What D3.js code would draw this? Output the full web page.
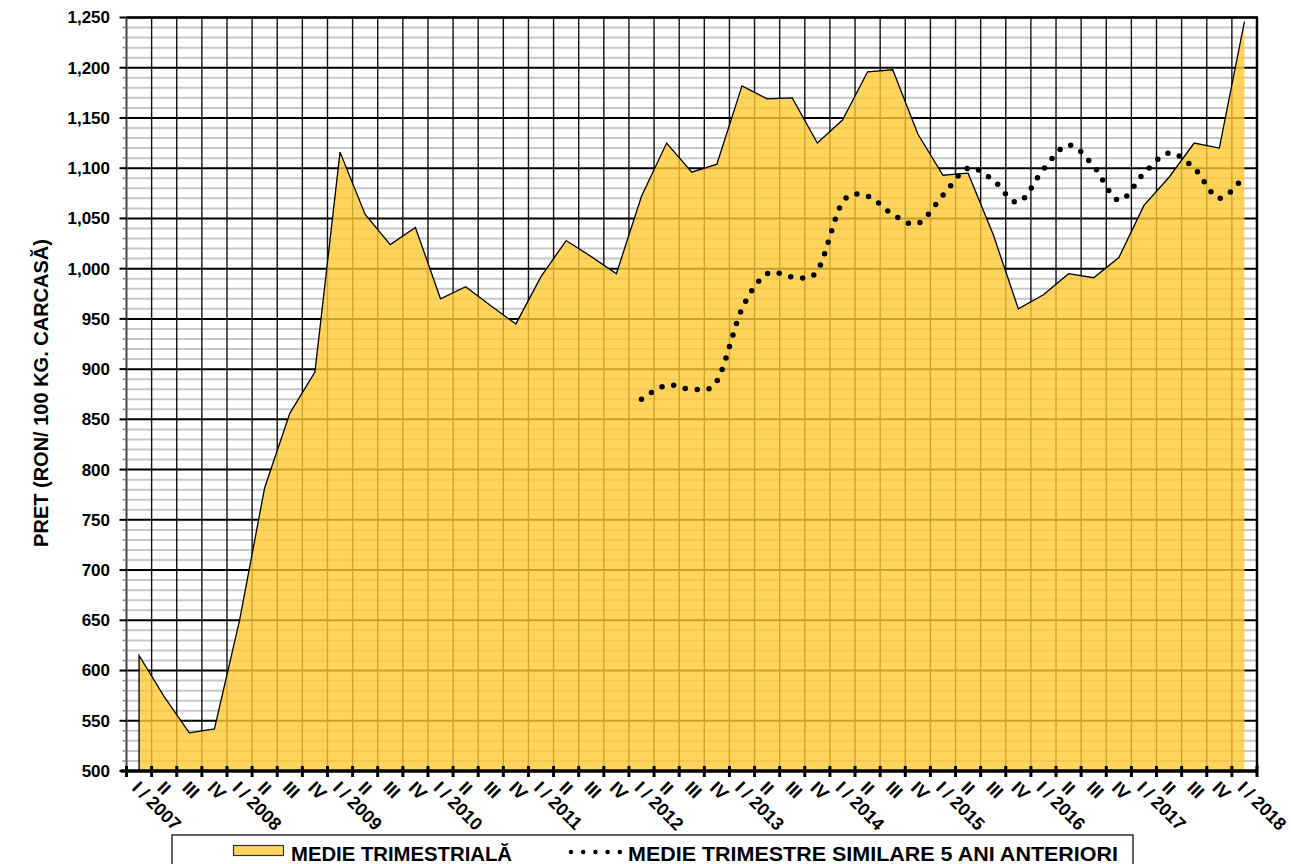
<!DOCTYPE html>
<html><head><meta charset="utf-8">
<script src="https://cdn.jsdelivr.net/npm/d3@7"></script>
<style>
body{margin:0;background:#fff}
text{font-family:"Liberation Sans",Arial,sans-serif;font-weight:bold;fill:#000}
</style>
</head><body>
<svg id="c" width="1291" height="864"></svg>
<script>
const categories = ["I / 2007","II","III","IV","I / 2008","II","III","IV","I / 2009","II","III","IV",
  "I / 2010","II","III","IV","I / 2011","II","III","IV","I / 2012","II","III","IV",
  "I / 2013","II","III","IV","I / 2014","II","III","IV","I / 2015","II","III","IV",
  "I / 2016","II","III","IV","I / 2017","II","III","IV","I / 2018"];
const medieTrimestriala = [615,574,538,542,650,782,856,897,1116,1054,1024,1041,
  970,982,963,945,992,1028,1012,995,1072,1125,1096,1104,
  1182,1169,1170,1125,1148,1196,1198,1134,1093,1095,1034,960,
  974,995,991,1011,1063,1091,1125,1120,1246];
const medieSimilare5Ani = [null,null,null,null,null,null,null,null,null,null,null,null,
  null,null,null,null,null,null,null,null,870,884,880,888,
  960,995,992,998,1066,1072,1054,1045,1073,1100,1088,1066,
  1099,1123,1102,1068,1095,1115,1100,1070,1093];
const yTicks = [500,550,600,650,700,750,800,850,900,950,1000,1050,1100,1150,1200,1250];
const yTickLabels = ["500","550","600","650","700","750","800","850","900","950","1,000","1,050","1,100","1,150","1,200","1,250"];
const yTitle = "PRET (RON/ 100 KG. CARCASĂ)";
const legendLabels = ["MEDIE TRIMESTRIALĂ","MEDIE TRIMESTRE SIMILARE 5 ANI ANTERIORI"];

const svg = d3.select("#c");
const L = 126.5, R = 1257, T = 17.5, B = 771;
const x = d3.scaleBand().domain(d3.range(categories.length)).range([L, R]);
const bw = x.bandwidth();
const cx = i => x(i) + bw / 2;
const y = d3.scaleLinear().domain([500, 1250]).range([B, T]);

const FILL = "#FFC933";

// minor horizontal grid
const minor = d3.range(510, 1250, 10).filter(v => v % 50 !== 0);
svg.append("g").selectAll("line").data(minor).join("line")
  .attr("x1", L).attr("x2", R).attr("y1", d => y(d)).attr("y2", d => y(d))
  .attr("stroke", "#c8c8c8").attr("stroke-width", 2);
// major horizontal grid
svg.append("g").selectAll("line").data(yTicks.filter(v => v > 500)).join("line")
  .attr("x1", L).attr("x2", R).attr("y1", d => y(d)).attr("y2", d => y(d))
  .attr("stroke", "#000").attr("stroke-width", 2);
// vertical grid
svg.append("g").selectAll("line").data(d3.range(1, categories.length)).join("line")
  .attr("x1", d => x(d)).attr("x2", d => x(d)).attr("y1", T).attr("y2", B)
  .attr("stroke", "#111").attr("stroke-width", 1.4);

// area
const area = d3.area().x((d, i) => cx(i)).y0(B).y1(d => y(d));
svg.append("path").datum(medieTrimestriala).attr("d", area)
  .attr("fill", FILL).attr("fill-opacity", 0.8);
const outline = d3.line().x(d => d[0]).y(d => d[1]);
const pts = [[cx(0), B]].concat(medieTrimestriala.map((v, i) => [cx(i), y(v)]));
svg.append("path").datum(pts).attr("d", outline)
  .attr("fill", "none").attr("stroke", "#000").attr("stroke-width", 1.3);

// borders
svg.append("line").attr("x1", L).attr("x2", R + 1).attr("y1", T).attr("y2", T)
  .attr("stroke", "#000").attr("stroke-width", 2.5);
svg.append("line").attr("x1", R).attr("x2", R).attr("y1", T).attr("y2", B)
  .attr("stroke", "#000").attr("stroke-width", 2.5);

// left axis
svg.append("line").attr("x1", L).attr("x2", L).attr("y1", T).attr("y2", B)
  .attr("stroke", "#444").attr("stroke-width", 2);
svg.append("g").selectAll("line").data(minor).join("line")
  .attr("x1", L - 4).attr("x2", L).attr("y1", d => y(d)).attr("y2", d => y(d))
  .attr("stroke", "#888").attr("stroke-width", 1.5);
svg.append("g").selectAll("line").data(yTicks).join("line")
  .attr("x1", L - 7).attr("x2", L).attr("y1", d => y(d)).attr("y2", d => y(d))
  .attr("stroke", "#000").attr("stroke-width", 2);
svg.append("g").selectAll("text").data(yTicks).join("text")
  .attr("x", 110).attr("y", d => y(d)).attr("dy", "0.35em")
  .attr("text-anchor", "end").attr("font-size", 17)
  .text((d, i) => yTickLabels[i]);

// y title
svg.append("text").attr("transform", "translate(48,393) rotate(-90)")
  .attr("text-anchor", "middle").attr("font-size", 20).text(yTitle);

// bottom axis
svg.append("line").attr("x1", L - 6).attr("x2", R + 1).attr("y1", B).attr("y2", B)
  .attr("stroke", "#000").attr("stroke-width", 3.5);
svg.append("g").selectAll("line").data(d3.range(0, categories.length + 1)).join("line")
  .attr("x1", d => L + d * bw).attr("x2", d => L + d * bw).attr("y1", B - 5).attr("y2", B + 6)
  .attr("stroke", "#000").attr("stroke-width", 3);
svg.append("g").selectAll("text").data(categories).join("text")
  .attr("transform", (d, i) => `translate(${cx(i) - 8},${789}) rotate(45)`)
  .attr("font-size", 18).attr("text-anchor", "start").text(d => d);

// dotted smoothed line
const dotLine = d3.line().defined(d => d != null)
  .x((d, i) => cx(i)).y(d => y(d)).curve(d3.curveCatmullRom.alpha(0));
svg.append("path").datum(medieSimilare5Ani).attr("d", dotLine)
  .attr("fill", "none").attr("stroke", "#000").attr("stroke-width", 5.5)
  .attr("stroke-linecap", "round").attr("stroke-dasharray", "0 12");

// legend
svg.append("rect").attr("x", 172).attr("y", 835).attr("width", 961).attr("height", 60)
  .attr("fill", "#fff").attr("stroke", "#333").attr("stroke-width", 1.5);
svg.append("rect").attr("x", 233.5).attr("y", 845.5).attr("width", 50).attr("height", 10)
  .attr("fill", FILL).attr("fill-opacity", 0.8).attr("stroke", "#333").attr("stroke-width", 1.2);
svg.append("text").attr("x", 291).attr("y", 861).attr("font-size", 20.5)
  .attr("textLength", 221).attr("lengthAdjust", "spacingAndGlyphs").text(legendLabels[0]);
svg.append("line").attr("x1", 571).attr("x2", 620).attr("y1", 852).attr("y2", 852)
  .attr("stroke", "#000").attr("stroke-width", 4.5).attr("stroke-linecap", "round")
  .attr("stroke-dasharray", "0 12.2");
svg.append("text").attr("x", 628).attr("y", 861).attr("font-size", 20.5)
  .attr("textLength", 490).attr("lengthAdjust", "spacingAndGlyphs").text(legendLabels[1]);
</script>
</body></html>
